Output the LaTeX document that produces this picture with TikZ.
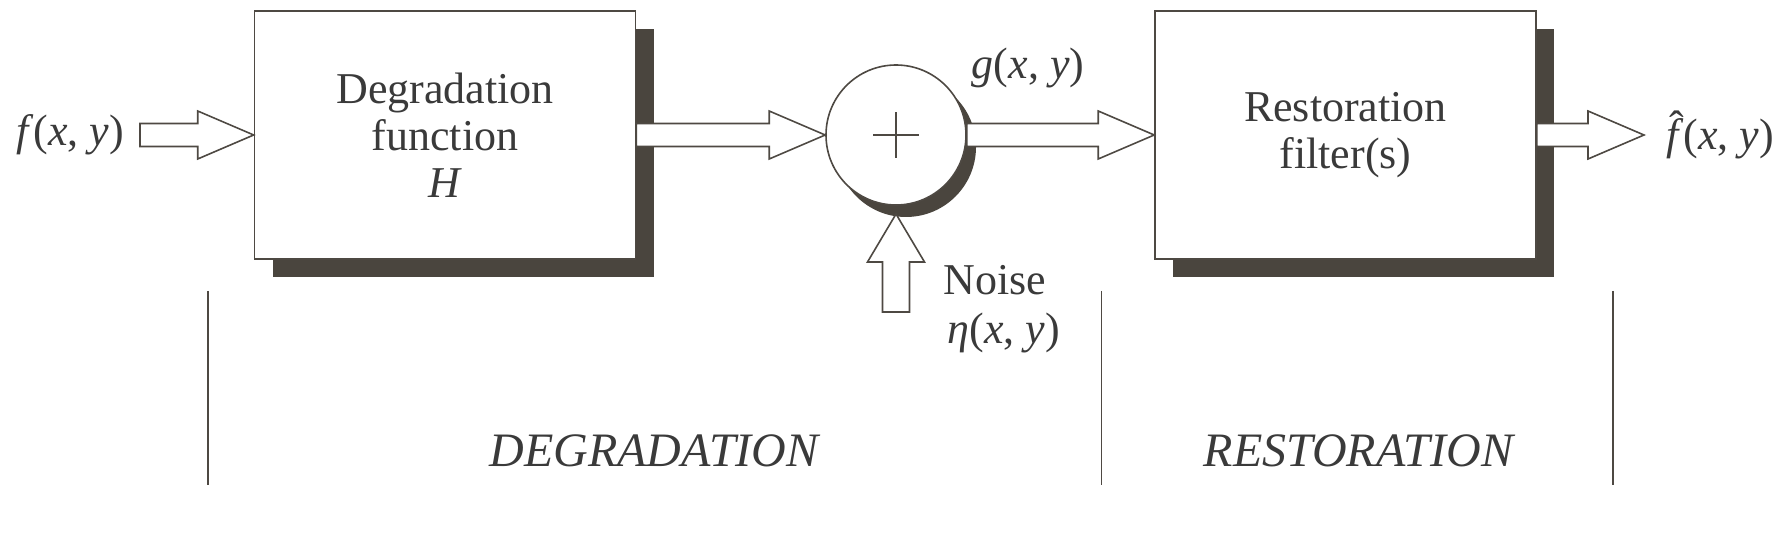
\documentclass[tikz,border=0pt]{standalone}
\usepackage{fontspec}
\setmainfont{Liberation Serif}
\usetikzlibrary{calc,shadows}
\definecolor{ink}{HTML}{4E4943}
\definecolor{shade}{HTML}{4A453E}
\definecolor{txt}{HTML}{3A3A3A}
\newcommand\fxy[1]{\textit{#1}(\textit{x}, \textit{y})}
\newcommand\fhatsym{\makebox[0pt][l]{\kern0.08em\raisebox{0.2em}{ˆ}}\textit{f}}
\begin{document}
\begin{tikzpicture}[x=1pt,y=-1pt,
  every node/.style={font=\fontsize{44}{47}\selectfont, text=txt},
  blk/.style={draw=ink, line width=1.6pt, fill=white, minimum width=381pt,
    minimum height=248pt, align=center,
    drop shadow={shadow xshift=18pt, shadow yshift=-18pt, opacity=1, fill=shade}},
  sum/.style={circle, draw=ink, line width=1.6pt, fill=white, minimum size=140pt,
    inner sep=0pt,
    drop shadow={shadow xshift=10pt, shadow yshift=-12pt, opacity=1, fill=shade}},
  harrow/.style={draw=ink, line width=1.6pt, fill=white, line join=miter,
    to path={let \p1=(\tikztostart), \p2=(\tikztotarget) in
      (\x1,\y1+11.5pt) -- (\x2-56pt,\y1+11.5pt) -- (\x2-56pt,\y1+24pt) -- (\x2,\y1)
      -- (\x2-56pt,\y1-24pt) -- (\x2-56pt,\y1-11.5pt) -- (\x1,\y1-11.5pt) -- cycle}},
  varrow/.style={draw=ink, line width=1.6pt, fill=white, line join=miter,
    to path={let \p1=(\tikztostart), \p2=(\tikztotarget) in
      (\x1-13.5pt,\y1) -- (\x1-13.5pt,\y2-48pt) -- (\x1-28.5pt,\y2-48pt) -- (\x1,\y2)
      -- (\x1+28.5pt,\y2-48pt) -- (\x1+13.5pt,\y2-48pt) -- (\x1+13.5pt,\y1) -- cycle}},
  divider/.style={draw=ink, line width=1.3pt},
  phase/.style={font=\fontsize{48}{50}\selectfont\itshape}
]
\useasboundingbox (0,0) rectangle (1790,534);

% blocks
\node[blk] (deg) at (445,135) {Degradation\\function\\\textit{H}};
\node[sum] (sum) at (896,135) {};
\node[blk] (res) at (1345.5,135) {Restoration\\filter(s)};

% labels
\node (fin) at (70,135) {\fxy{f}};
\node (g) at (1028,68) {\fxy{g}};
\node (fout) at (1720,135) {\fhatsym(\textit{x}, \textit{y})};
\node (noise) at (995,280) {Noise};
\node (eta) at (1004,333) {\fxy{η}};

% arrow coordinates
\coordinate (inL) at (140,135);
\coordinate (nbot) at (896,312);
\coordinate (ntip) at (896,214);
\coordinate (outR) at (1644,135);

% block arrows
\draw[harrow] (inL) to (deg.west);
\draw[harrow] (deg.east) to (sum.west);
\draw[harrow] (sum.east) to (res.west);
\draw[harrow] (res.east) to (outR);
\draw[varrow] (nbot) to (ntip);

% plus sign
\draw[ink, line width=2.4pt] ([xshift=-23pt]sum.center) -- ([xshift=23pt]sum.center);
\draw[ink, line width=2.4pt] ([yshift=-23pt]sum.center) -- ([yshift=23pt]sum.center);

% dividers
\coordinate (d1t) at (208,291); \coordinate (d1b) at (208,485);
\coordinate (d2t) at (1101.5,291); \coordinate (d2b) at (1101.5,485);
\coordinate (d3t) at (1613,291); \coordinate (d3b) at (1613,485);
\draw[divider] (d1t) -- (d1b);
\draw[divider] (d2t) -- (d2b);
\draw[divider] (d3t) -- (d3b);

\node[phase] (pdeg) at (654,451) {DEGRADATION};
\node[phase] (pres) at (1358.5,451) {RESTORATION};
\end{tikzpicture}
\end{document}
